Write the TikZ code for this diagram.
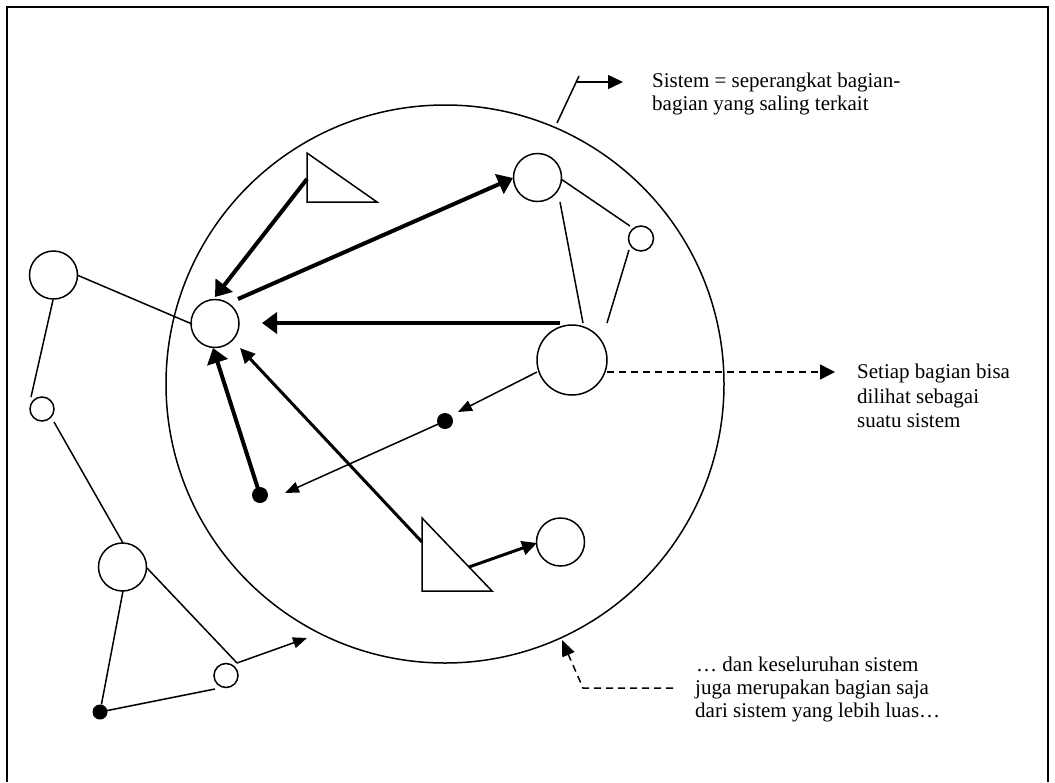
\documentclass[tikz,border=0pt]{standalone}
\usepackage{fontspec}
\setmainfont{Liberation Serif}
\usetikzlibrary{arrows.meta}
\begin{document}
\begin{tikzpicture}[x=1pt,y=-1pt,
 ln/.style={line width=1.5pt,line join=miter},
 circ/.style={circle,draw,line width=1.5pt,inner sep=0pt,minimum size=#1},
 dot/.style={circle,fill,inner sep=0pt,minimum size=#1},
 thk/.style={line width=4pt,-{Triangle[length=15pt,width=21pt]}},
 med/.style={line width=3pt,-{Triangle[length=15pt,width=14pt]}},
 thn/.style={line width=1.5pt,-{Triangle[length=14pt,width=11pt]}},
 dsh/.style={line width=1.5pt,dash pattern=on 7pt off 5pt},
 lbl/.style={anchor=base west,inner sep=0pt,font=\fontsize{21}{24}\selectfont}]
\useasboundingbox (0,0) rectangle (1055,782);
% frame
\coordinate (f1) at (7,782); \coordinate (f2) at (7,7);
\coordinate (f3) at (1048,7); \coordinate (f4) at (1048,782);
\draw[line width=1.5pt] (f1) -- (f2) -- (f3) -- (f4);
% system circle
\node[circ=558pt] (sys) at (445,384) {};
% inner nodes
\node[circ=48pt] (L) at (215,323.5) {};
\node[circ=48pt] (TR) at (537.5,177.5) {};
\node[circ=25pt] (SR) at (641,238.5) {};
\node[circ=70pt] (BR) at (572,360) {};
\node[circ=48pt] (BB) at (560.5,542) {};
\node[dot=16pt] (F) at (260,495) {};
\node[dot=16pt] (G) at (445,421) {};
% outer nodes
\node[circ=48pt] (A) at (53.5,275) {};
\node[circ=24pt] (B) at (42,409) {};
\node[circ=48pt] (C) at (122.5,567) {};
\node[circ=24pt] (D) at (226,675.5) {};
\node[dot=15pt] (E) at (100,712) {};
% triangles
\coordinate (T1a) at (307,153); \coordinate (T1b) at (307,202); \coordinate (T1c) at (377,202);
\draw[ln] (T1a) -- (T1b) -- (T1c) -- cycle;
\coordinate (T2a) at (422,518); \coordinate (T2b) at (422,591); \coordinate (T2c) at (492,591);
\draw[ln] (T2a) -- (T2b) -- (T2c) -- cycle;
% connector end points
\coordinate (trR) at (561,179); \coordinate (srL) at (630,226);
\coordinate (trB) at (560,202); \coordinate (brT) at (583,323);
\coordinate (srB) at (629,250); \coordinate (brT2) at (607,323);
\coordinate (aR) at (77,275); \coordinate (lL) at (192,324);
\coordinate (aB) at (53,300); \coordinate (bT) at (31,397);
\coordinate (bB) at (54,422); \coordinate (cT) at (123,543);
\coordinate (cB) at (123,591); \coordinate (cR) at (147,568);
\coordinate (dK) at (237,663); \coordinate (dL) at (215,689);
\coordinate (dTip) at (307,638);
\coordinate (t1s) at (307,179); \coordinate (lTop) at (215,297);
\coordinate (lNE) at (238,299); \coordinate (trW) at (513,178);
\coordinate (brW) at (560,323); \coordinate (lE) at (262,323);
\coordinate (lS) at (213,348); \coordinate (lSE) at (240,348);
\coordinate (t2s) at (422,542); \coordinate (t2r) at (469,567); \coordinate (bbW) at (537,543);
\coordinate (brSW) at (537,372); \coordinate (gTip) at (458,412);
\coordinate (fTip) at (285,493);
% plain lines
\draw[ln] (trR) -- (srL);
\draw[ln] (trB) -- (brT);
\draw[ln] (srB) -- (brT2);
\draw[ln] (aR) -- (lL);
\draw[ln] (aB) -- (bT);
\draw[ln] (bB) -- (cT);
\draw[ln] (cB) -- (E);
\draw[ln] (cR) -- (dK);
\draw[ln] (dL) -- (E.center);
\draw[thn] (dK) -- (dTip);
% arrows
\draw[thk] (t1s) -- (lTop);
\draw[thk] (lNE) -- (trW);
\draw[thk] (brW) -- (lE);
\draw[thk] (F.center) -- (lS);
\draw[med] (t2s) -- (lSE);
\draw[med] (t2r) -- (bbW);
\draw[thn] (brSW) -- (gTip);
\draw[thn] (G.center) -- (fTip);
% annotations
\coordinate (s1) at (557,123); \coordinate (s2) at (579,76);
\coordinate (s3) at (577,82); \coordinate (s4) at (623,82);
\draw[ln] (s1) -- (s2);
\draw[line width=1.5pt,-{Triangle[length=15pt,width=14pt]}] (s3) -- (s4);
\node[lbl] (sis1) at (652,87) {Sistem = seperangkat bagian-};
\node[lbl] (sis2) at (652,110) {bagian yang saling terkait};
\coordinate (brE) at (607,372); \coordinate (setTip) at (835,372);
\draw[dsh,-{Triangle[length=15pt,width=15pt]}] (brE) -- (setTip);
\node[lbl] (set1) at (857,378) {Setiap bagian bisa};
\node[lbl] (set2) at (857,403) {dilihat sebagai};
\node[lbl] (set3) at (857,427) {suatu sistem};
\coordinate (k1) at (673,688); \coordinate (k2) at (583,688); \coordinate (k3) at (562,640);
\draw[dsh,-{Triangle[length=16pt,width=13pt]}] (k1) -- (k2) -- (k3);
\node[lbl] (kes1) at (696,671) {… dan keseluruhan sistem};
\node[lbl] (kes2) at (695,694) {juga merupakan bagian saja};
\node[lbl] (kes3) at (695,717) {dari sistem yang lebih luas…};
\end{tikzpicture}
\end{document}
